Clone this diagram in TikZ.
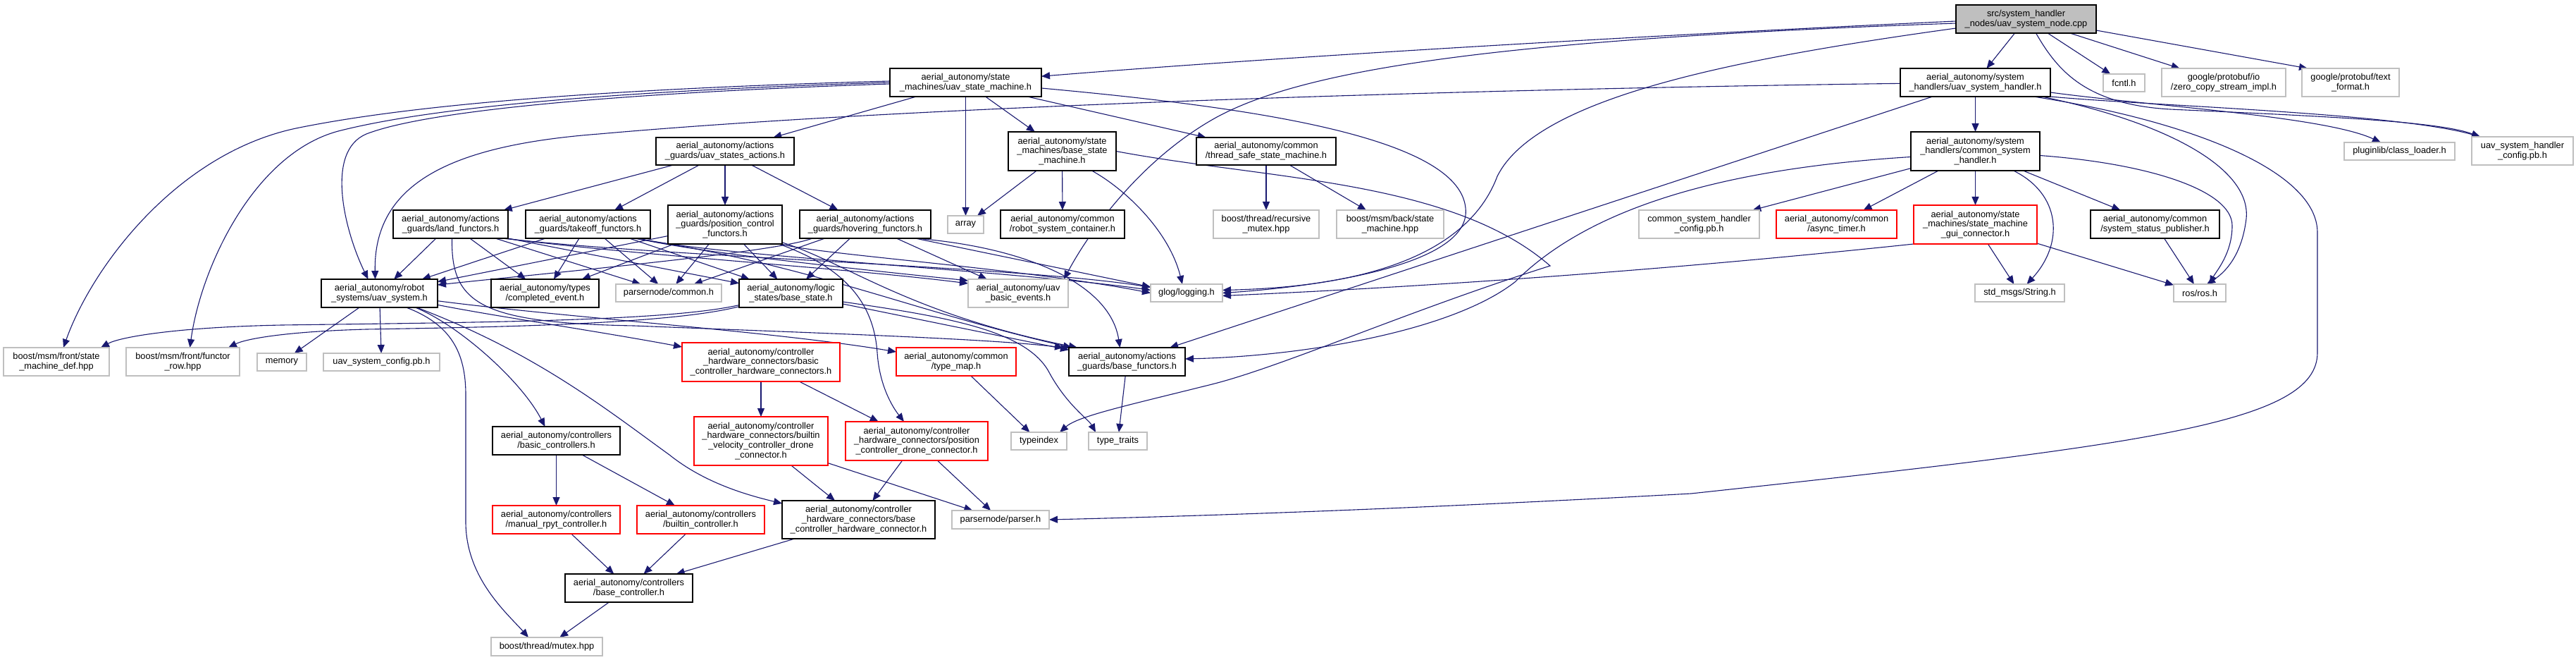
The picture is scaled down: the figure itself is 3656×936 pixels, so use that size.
\documentclass[tikz,border=0pt]{standalone}
\usepackage{fontspec}
\setmainfont{Liberation Sans}
\usetikzlibrary{arrows.meta}
\pgfdeclarelayer{bg}
\pgfsetlayers{bg,main}
\definecolor{edgec}{HTML}{191970}
\definecolor{grayb}{HTML}{BFBFBF}
\definecolor{rootf}{HTML}{BFBFBF}
\newcommand{\nd}[7]{%
 \pgfmathsetmacro{\ndcx}{(#2+#4)/2}%
 \pgfmathsetmacro{\ndcy}{(#3+#5)/2}%
 \pgfmathsetmacro{\ndw}{(#4-#2)*0.5}%
 \pgfmathsetmacro{\ndh}{(#5-#3)*0.5}%
 \node[#6, minimum width=\ndw pt, minimum height=\ndh pt] (#1) at (\ndcx,\ndcy) {#7};}
\begin{document}
\begin{tikzpicture}[x=0.5pt, y=-0.5pt,
  every node/.style={font=\fontsize{6.4pt}{6.9pt}\selectfont, align=center, inner sep=0pt, outer sep=0pt, rectangle},
  nb/.style={draw=black, line width=1pt, fill=white},
  ng/.style={draw=grayb, line width=1pt, fill=white},
  nr/.style={draw=red, line width=1pt, fill=white},
  nroot/.style={draw=black, line width=1pt, fill=rootf},
  e/.style={draw=edgec, line width=0.55pt, -{Triangle[length=6pt,width=5pt]}}]
\useasboundingbox (0,0) rectangle (3656,936);
% nodes
\nd{root}{2776}{7}{2975}{47}{nroot}{src/system\_handler\\\_nodes/uav\_system\_node.cpp}
\nd{usm}{1263}{97}{1478}{137}{nb}{aerial\_autonomy/state\\\_machines/uav\_state\_machine.h}
\nd{ush}{2697}{97}{2910}{137}{nb}{aerial\_autonomy/system\\\_handlers/uav\_system\_handler.h}
\nd{fcntl}{2985}{105}{3044}{130}{ng}{fcntl.h}
\nd{gpio}{3068}{97}{3244}{137}{ng}{google/protobuf/io\\/zero\_copy\_stream\_impl.h}
\nd{gptext}{3267}{97}{3405}{137}{ng}{google/protobuf/text\\\_format.h}
\nd{usa}{931}{195}{1127}{234}{nb}{aerial\_autonomy/actions\\\_guards/uav\_states\_actions.h}
\nd{bsm}{1431}{187}{1584}{242}{nb}{aerial\_autonomy/state\\\_machines/base\_state\\\_machine.h}
\nd{tssm}{1698}{195}{1896}{234}{nb}{aerial\_autonomy/common\\/thread\_safe\_state\_machine.h}
\nd{csh}{2712}{187}{2895}{242}{nb}{aerial\_autonomy/system\\\_handlers/common\_system\\\_handler.h}
\nd{plugin}{3327}{202}{3484}{227}{ng}{pluginlib/class\_loader.h}
\nd{ushpb}{3508}{194}{3652}{234}{ng}{uav\_system\_handler\\\_config.pb.h}
\nd{land}{558}{298}{721}{338}{nb}{aerial\_autonomy/actions\\\_guards/land\_functors.h}
\nd{takeoff}{746}{298}{923}{338}{nb}{aerial\_autonomy/actions\\\_guards/takeoff\_functors.h}
\nd{posf}{948}{291}{1110}{346}{nb}{aerial\_autonomy/actions\\\_guards/position\_control\\\_functors.h}
\nd{hover}{1135}{298}{1321}{338}{nb}{aerial\_autonomy/actions\\\_guards/hovering\_functors.h}
\nd{array}{1345}{306}{1396}{331}{ng}{array}
\nd{rsc}{1420}{298}{1596}{338}{nb}{aerial\_autonomy/common\\/robot\_system\_container.h}
\nd{rmutex}{1722}{298}{1872}{338}{ng}{boost/thread/recursive\\\_mutex.hpp}
\nd{backsm}{1897}{298}{2049}{338}{ng}{boost/msm/back/state\\\_machine.hpp}
\nd{cshpb}{2326}{298}{2497}{338}{ng}{common\_system\_handler\\\_config.pb.h}
\nd{async}{2521}{298}{2692}{338}{nr}{aerial\_autonomy/common\\/async\_timer.h}
\nd{smgui}{2716}{291}{2891}{346}{nr}{aerial\_autonomy/state\\\_machines/state\_machine\\\_gui\_connector.h}
\nd{status}{2967}{298}{3150}{338}{nb}{aerial\_autonomy/common\\/system\_status\_publisher.h}
\nd{uavsys}{456}{396}{621}{436}{nb}{aerial\_autonomy/robot\\\_systems/uav\_system.h}
\nd{compl}{697}{396}{850}{436}{nb}{aerial\_autonomy/types\\/completed\_event.h}
\nd{pnc}{874}{403}{1024}{428}{ng}{parsernode/common.h}
\nd{bstate}{1049}{396}{1196}{436}{nb}{aerial\_autonomy/logic\\\_states/base\_state.h}
\nd{ube}{1374}{396}{1516}{436}{ng}{aerial\_autonomy/uav\\\_basic\_events.h}
\nd{glog}{1633}{403}{1735}{428}{ng}{glog/logging.h}
\nd{stdstr}{2803}{403}{2930}{428}{ng}{std\_msgs/String.h}
\nd{rosh}{3085}{403}{3159}{428}{ng}{ros/ros.h}
\nd{smdef}{5}{493}{155}{533}{ng}{boost/msm/front/state\\\_machine\_def.hpp}
\nd{frow}{179}{493}{340}{533}{ng}{boost/msm/front/functor\\\_row.hpp}
\nd{memory}{365}{501}{435}{526}{ng}{memory}
\nd{uscpb}{459}{501}{624}{526}{ng}{uav\_system\_config.pb.h}
\nd{bchc}{968}{486}{1192}{541}{nr}{aerial\_autonomy/controller\\\_hardware\_connectors/basic\\\_controller\_hardware\_connectors.h}
\nd{tmap}{1272}{493}{1442}{533}{nr}{aerial\_autonomy/common\\/type\_map.h}
\nd{bfun}{1517}{493}{1682}{533}{nb}{aerial\_autonomy/actions\\\_guards/base\_functors.h}
\nd{bctrls}{699}{605}{880}{645}{nb}{aerial\_autonomy/controllers\\/basic\_controllers.h}
\nd{bvel}{985}{591}{1175}{660}{nr}{aerial\_autonomy/controller\\\_hardware\_connectors/builtin\\\_velocity\_controller\_drone\\\_connector.h}
\nd{pcdc}{1200}{598}{1402}{653}{nr}{aerial\_autonomy/controller\\\_hardware\_connectors/position\\\_controller\_drone\_connector.h}
\nd{tindex}{1435}{613}{1514}{638}{ng}{typeindex}
\nd{ttraits}{1545}{613}{1628}{638}{ng}{type\_traits}
\nd{manual}{699}{717}{880}{757}{nr}{aerial\_autonomy/controllers\\/manual\_rpyt\_controller.h}
\nd{builtin}{904}{717}{1085}{757}{nr}{aerial\_autonomy/controllers\\/builtin\_controller.h}
\nd{bchw}{1110}{710}{1327}{764}{nb}{aerial\_autonomy/controller\\\_hardware\_connectors/base\\\_controller\_hardware\_connector.h}
\nd{parser}{1351}{724}{1489}{750}{ng}{parsernode/parser.h}
\nd{bctrl}{802}{814}{983}{854}{nb}{aerial\_autonomy/controllers\\/base\_controller.h}
\nd{mutex}{697}{904}{855}{930}{ng}{boost/thread/mutex.hpp}
% edges
\begin{pgfonlayer}{bg}
% root
\draw[e] ([yshift=-1.5pt]root.west) .. controls (2300,52) and (1800,82) .. (usm);
\draw[e] ([yshift=-3pt]root.west) .. controls (2150,55) and (1850,95) .. (1720,170) .. controls (1616,230) and (1545,330) .. ([xshift=-3pt]ube.north east);
\draw[e] ([yshift=-6.5pt]root.west) .. controls (2450,85) and (2180,140) .. (2125,250) .. controls (2095,330) and (2000,405) .. ([yshift=2pt]glog.east);
\draw[e] (root) -- (ush);
\draw[e] (root) -- (fcntl);
\draw[e] (root) -- (gpio);
\draw[e] ([yshift=-8pt]root.east) -- ([xshift=4pt]gptext.north west);
\draw[e] ([xshift=7pt]root.south) .. controls (2920,100) and (2960,148) .. (3080,155) .. controls (3300,165) and (3460,172) .. ([xshift=6pt]ushpb.north west);
% ush
\draw[e] (ush.south east) .. controls (3050,150) and (3400,160) .. ([xshift=6pt]ushpb.north west);
\draw[e] ([yshift=3pt]ush.south east) .. controls (3050,150) and (3300,165) .. (plugin);
\draw[e] ([xshift=-6pt]ush.south east) .. controls (3080,175) and (3195,240) .. (3188,310) .. controls (3182,360) and (3160,385) .. ([xshift=5pt]rosh.north);
\draw[e] ([xshift=-12pt]ush.south east) .. controls (3100,170) and (3289,240) .. (3289,330) -- (3289,500) .. controls (3289,600) and (3050,630) .. (2400,700) .. controls (2000,722) and (1700,732) .. (parser.east);
\draw[e] (ush) -- (csh);
\draw[e] (ush) .. controls (2100,126) and (1300,150) .. (850,190) .. controls (640,206) and (530,260) .. ([xshift=-3pt]uavsys.north);
\draw[e] (ush) -- (bfun);
% csh
\draw[e] ([yshift=-3pt]csh.east) .. controls (3050,232) and (3168,270) .. (3168,320) .. controls (3168,360) and (3145,385) .. ([xshift=7pt]rosh.north);
\draw[e] (csh) -- (cshpb);
\draw[e] (csh) -- (async);
\draw[e] (csh) -- (smgui);
\draw[e] (csh) -- (status);
\draw[e] ([xshift=27pt]csh.south) .. controls (2925,275) and (2930,345) .. ([xshift=5pt]stdstr.north);
\draw[e] ([yshift=-4pt]csh.west) .. controls (2430,240) and (2250,300) .. (2150,400) .. controls (2060,470) and (1850,505) .. ([yshift=2pt]bfun.east);
% smgui, status
\draw[e] (smgui) -- (stdstr);
\draw[e] (smgui.south west) .. controls (2300,390) and (1950,410) .. ([yshift=-2pt]glog.east);
\draw[e] (smgui) -- (rosh);
\draw[e] (status) -- (rosh);
% usm
\draw[e] ([yshift=1pt]usm.west) .. controls (900,125) and (600,145) .. (420,182) .. controls (250,218) and (130,380) .. ([xshift=5pt]smdef.north);
\draw[e] (usm.west) .. controls (900,128) and (620,150) .. (480,186) .. controls (360,218) and (285,380) .. ([xshift=5pt]frow.north);
\draw[e] ([yshift=-1pt]usm.west) .. controls (900,131) and (610,155) .. (520,190) .. controls (460,215) and (490,330) .. ([xshift=-8pt]uavsys.north);
\draw[e] (usm) -- (usa);
\draw[e] (usm) -- (array);
\draw[e] (usm) -- (bsm);
\draw[e] (usm) -- (tssm);
\draw[e] ([yshift=-4pt]usm.east) .. controls (1750,150) and (2070,190) .. (2080,295) .. controls (2090,380) and (1850,408) .. (glog.east);
% bsm, tssm
\draw[e] (bsm) -- (array);
\draw[e] (bsm) -- (rsc);
\draw[e] ([xshift=21pt]bsm.south) .. controls (1600,270) and (1660,330) .. ([xshift=-3pt]glog.north);
\draw[e] (bsm.east) .. controls (1800,255) and (2060,255) .. (2200,377) .. controls (2000,440) and (1820,520) .. (1720,545) .. controls (1600,575) and (1530,590) .. ([xshift=-5pt]tindex.north east);
\draw[e] (tssm) -- (rmutex);
\draw[e] (tssm) -- (backsm);
% usa
\draw[e] (usa) -- (land);
\draw[e] (usa) -- (takeoff);
\draw[e] (usa) -- (posf);
\draw[e] (usa) -- (hover);
% land
\draw[e] (land) -- (uavsys);
\draw[e] (land) -- (compl);
\draw[e] (land) -- (pnc);
\draw[e] (land.south east) -- (bstate);
\draw[e] ([xshift=-2pt]land.south east) .. controls (900,362) and (1200,380) .. ([yshift=7pt]ube.west);
\draw[e] ([xshift=-4pt]land.south east) .. controls (950,365) and (1450,378) .. ([yshift=4pt]glog.west);
\draw[e] ([xshift=1pt]land.south) .. controls (640,430) and (680,458) .. (900,462) .. controls (1150,472) and (1400,480) .. ([xshift=-4pt]bfun.north west);
% takeoff
\draw[e] (takeoff) -- (uavsys);
\draw[e] (takeoff) -- (compl);
\draw[e] (takeoff) -- (pnc);
\draw[e] (takeoff) -- (bstate);
\draw[e] ([xshift=-10pt]takeoff.south east) .. controls (1000,360) and (1250,385) .. ([yshift=9pt]ube.west);
\draw[e] ([xshift=-8pt]takeoff.south east) .. controls (1000,362) and (1450,385) .. ([yshift=2pt]glog.west);
\draw[e] ([xshift=-12pt]takeoff.south east) .. controls (1150,375) and (1290,440) .. ([xshift=2pt]bfun.north west);
% posf
\draw[e] (posf) -- (uavsys);
\draw[e] (posf) -- (compl);
\draw[e] (posf) -- (pnc);
\draw[e] (posf) -- (bstate);
\draw[e] (posf) .. controls (1150,360) and (1450,380) .. (glog.west);
\draw[e] (posf) .. controls (1200,372) and (1290,445) .. ([xshift=6pt]bfun.north west);
\draw[e] (posf) .. controls (1200,380) and (1240,430) .. (1245,500) .. controls (1248,545) and (1265,575) .. ([xshift=-9pt]pcdc.north);
% hover
\draw[e] ([xshift=9pt]hover.south west) .. controls (1100,358) and (800,385) .. ([yshift=6pt]uavsys.east);
\draw[e] (hover) -- (pnc);
\draw[e] (hover) -- (bstate);
\draw[e] (hover) -- (ube);
\draw[e] ([xshift=-11pt]hover.south east) -- ([yshift=-2pt]glog.north west);
\draw[e] ([xshift=-11pt]hover.south east) .. controls (1450,350) and (1575,400) .. ([xshift=-5pt]bfun.north);
% bstate
\draw[e] (bstate) -- (bfun);
\draw[e] ([yshift=-6pt]bstate.east) .. controls (1350,450) and (1460,470) .. (1490,530) .. controls (1515,575) and (1545,595) .. ([xshift=5pt]ttraits.north west);
\draw[e] (bstate) .. controls (950,455) and (700,457) .. (400,461) .. controls (250,464) and (170,478) .. ([xshift=-6pt]smdef.north east);
\draw[e] (bstate) .. controls (950,460) and (700,464) .. (520,467) .. controls (410,470) and (350,480) .. ([xshift=-8pt]frow.north east);
% uavsys
\draw[e] (uavsys) -- (memory);
\draw[e] (uavsys) -- (uscpb);
\draw[e] ([xshift=19pt]uavsys.south) .. controls (640,460) and (661,500) .. (661,560) -- (661,740) .. controls (661,820) and (720,870) .. ([xshift=-13pt]mutex.north);
\draw[e] (uavsys) .. controls (650,460) and (740,540) .. ([xshift=-8pt]bctrls.north);
\draw[e] (uavsys) .. controls (760,500) and (860,580) .. (950,645) .. controls (1000,685) and (1060,702) .. ([yshift=-2pt]bchw.north west);
\draw[e] (uavsys) .. controls (700,448) and (850,470) .. ([yshift=-3pt]bchc.north west);
\draw[e] (uavsys) .. controls (800,450) and (1100,470) .. ([yshift=-3pt]tmap.north west);
% controllers
\draw[e] (bchc) -- (bvel);
\draw[e] (bchc) -- (pcdc);
\draw[e] (bvel) -- (bchw);
\draw[e] (bvel) -- (parser);
\draw[e] (pcdc) -- (bchw);
\draw[e] (pcdc) -- (parser);
\draw[e] (bchw) -- (bctrl);
\draw[e] (bctrls) -- (manual);
\draw[e] (bctrls) -- (builtin);
\draw[e] (manual) -- (bctrl);
\draw[e] (builtin) -- (bctrl);
\draw[e] (bctrl) -- (mutex);
\draw[e] (tmap) -- (tindex);
\draw[e] (bfun) -- (ttraits);
\end{pgfonlayer}
\end{tikzpicture}
\end{document}
